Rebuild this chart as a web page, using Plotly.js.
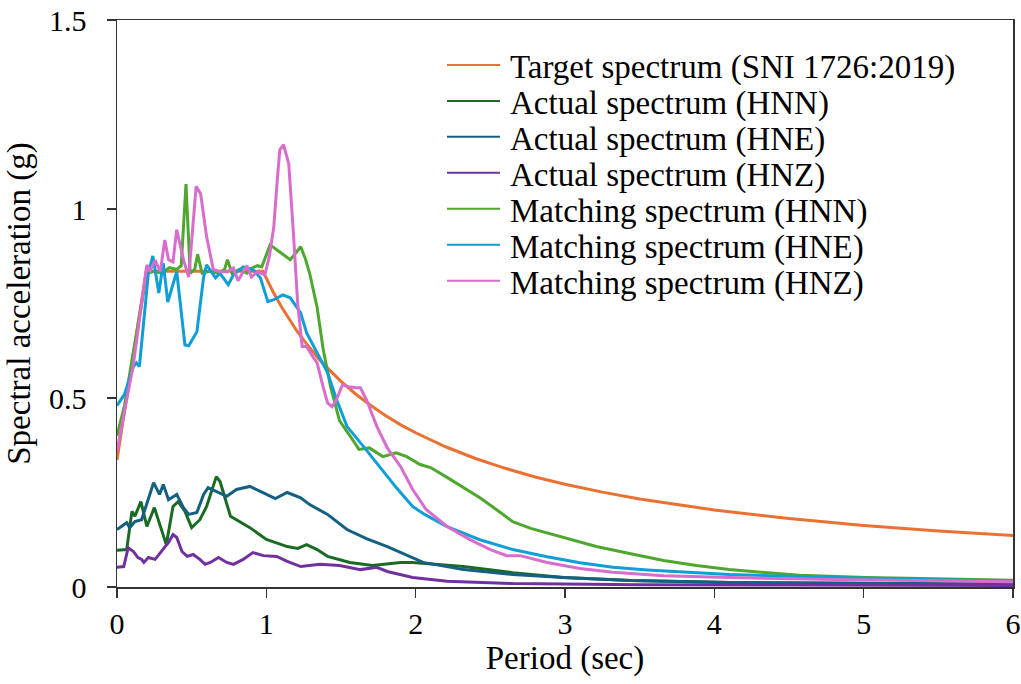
<!DOCTYPE html>
<html>
<head>
<meta charset="utf-8">
<script src="https://cdn.plot.ly/plotly-3.0.1.min.js"></script>
<style>html,body{margin:0;padding:0;background:#fff;}#chart{width:1021px;height:684px;}</style>
</head>
<body>
<div id="chart"></div>
<script>
// ---- Data ----
const seriesNames = [
  "Target spectrum (SNI 1726:2019)",
  "Actual spectrum (HNN)",
  "Actual spectrum (HNE)",
  "Actual spectrum (HNZ)",
  "Matching spectrum (HNN)",
  "Matching spectrum (HNE)",
  "Matching spectrum (HNZ)"
];

const targetT  = [0, 0.195, 0.977, 1.05, 1.1, 1.15, 1.2, 1.25, 1.3, 1.35, 1.4, 1.45, 1.5, 1.6, 1.7, 1.8, 1.9, 2.0, 2.2, 2.4, 2.6, 2.8, 3.0, 3.25, 3.5, 3.75, 4.0, 4.5, 5.0, 5.5, 6.0];
const targetSa = [0.336, 0.835, 0.835, 0.777, 0.742, 0.710, 0.680, 0.653, 0.628, 0.604, 0.583, 0.563, 0.544, 0.510, 0.480, 0.453, 0.429, 0.408, 0.371, 0.340, 0.314, 0.291, 0.272, 0.251, 0.233, 0.218, 0.204, 0.181, 0.163, 0.148, 0.136];

const actHNN_T  = [0, 0.065, 0.10, 0.12, 0.16, 0.20, 0.25, 0.29, 0.33, 0.375, 0.41, 0.455, 0.50, 0.555, 0.60, 0.665, 0.69, 0.76, 0.89, 1.0, 1.14, 1.21, 1.27, 1.34, 1.41, 1.56, 1.71, 1.90, 1.98, 2.32, 2.65, 2.99, 3.44, 4.1, 5.0, 6.0];
const actHNN_Sa = [0.097, 0.099, 0.20, 0.187, 0.226, 0.16, 0.21, 0.16, 0.112, 0.213, 0.226, 0.20, 0.157, 0.178, 0.213, 0.292, 0.279, 0.187, 0.157, 0.126, 0.107, 0.102, 0.112, 0.099, 0.081, 0.065, 0.057, 0.065, 0.065, 0.054, 0.038, 0.025, 0.017, 0.012, 0.009, 0.007];

const actHNE_T  = [0, 0.065, 0.085, 0.12, 0.165, 0.21, 0.245, 0.285, 0.31, 0.345, 0.40, 0.445, 0.48, 0.535, 0.58, 0.61, 0.67, 0.735, 0.80, 0.89, 0.96, 1.06, 1.14, 1.23, 1.29, 1.41, 1.54, 1.67, 1.81, 1.90, 2.05, 2.32, 2.65, 2.99, 3.44, 4.1, 5.0, 6.0];
const actHNE_Sa = [0.152, 0.17, 0.157, 0.173, 0.178, 0.236, 0.276, 0.245, 0.271, 0.231, 0.245, 0.21, 0.192, 0.197, 0.245, 0.263, 0.253, 0.24, 0.258, 0.266, 0.253, 0.234, 0.25, 0.236, 0.218, 0.192, 0.152, 0.128, 0.107, 0.091, 0.065, 0.046, 0.033, 0.025, 0.017, 0.012, 0.010, 0.008];

const actHNZ_T  = [0, 0.045, 0.075, 0.11, 0.14, 0.165, 0.18, 0.21, 0.255, 0.31, 0.345, 0.375, 0.40, 0.435, 0.47, 0.51, 0.555, 0.59, 0.625, 0.68, 0.735, 0.78, 0.845, 0.91, 0.98, 1.07, 1.14, 1.23, 1.36, 1.49, 1.63, 1.74, 1.81, 1.98, 2.21, 2.65, 3.5, 4.5, 6.0];
const actHNZ_Sa = [0.052, 0.054, 0.104, 0.094, 0.078, 0.073, 0.065, 0.078, 0.073, 0.099, 0.118, 0.139, 0.131, 0.094, 0.081, 0.086, 0.073, 0.06, 0.065, 0.078, 0.065, 0.06, 0.073, 0.091, 0.083, 0.081, 0.068, 0.054, 0.06, 0.057, 0.046, 0.052, 0.041, 0.025, 0.015, 0.009, 0.006, 0.005, 0.004];

const matHNN_T  = [0, 0.05, 0.10, 0.15, 0.20, 0.25, 0.30, 0.35, 0.40, 0.43, 0.462, 0.49, 0.52, 0.54, 0.57, 0.62, 0.68, 0.72, 0.74, 0.77, 0.82, 0.87, 0.91, 0.94, 0.97, 1.025, 1.09, 1.16, 1.20, 1.23, 1.26, 1.29, 1.34, 1.38, 1.43, 1.49, 1.56, 1.62, 1.69, 1.78, 1.87, 1.94, 2.03, 2.10, 2.21, 2.32, 2.43, 2.54, 2.65, 2.77, 2.99, 3.21, 3.44, 3.66, 3.88, 4.1, 4.57, 5.02, 5.47, 6.0];
const matHNN_Sa = [0.40, 0.48, 0.60, 0.72, 0.83, 0.835, 0.83, 0.845, 0.84, 0.85, 1.066, 0.83, 0.84, 0.88, 0.83, 0.835, 0.83, 0.84, 0.866, 0.83, 0.84, 0.83, 0.845, 0.85, 0.847, 0.905, 0.887, 0.866, 0.885, 0.90, 0.87, 0.83, 0.74, 0.63, 0.53, 0.44, 0.40, 0.364, 0.368, 0.345, 0.355, 0.345, 0.324, 0.316, 0.29, 0.263, 0.236, 0.205, 0.173, 0.155, 0.13, 0.107, 0.088, 0.07, 0.057, 0.046, 0.031, 0.025, 0.022, 0.018];

const matHNE_T  = [0, 0.05, 0.11, 0.13, 0.15, 0.21, 0.24, 0.28, 0.31, 0.34, 0.40, 0.455, 0.48, 0.535, 0.58, 0.60, 0.66, 0.69, 0.745, 0.78, 0.845, 0.91, 0.96, 1.01, 1.05, 1.11, 1.16, 1.23, 1.27, 1.34, 1.41, 1.47, 1.54, 1.65, 1.76, 1.87, 1.98, 2.06, 2.21, 2.43, 2.65, 2.88, 3.10, 3.32, 3.55, 3.88, 4.1, 4.8, 6.0];
const matHNE_Sa = [0.48, 0.51, 0.583, 0.593, 0.583, 0.83, 0.876, 0.778, 0.857, 0.754, 0.834, 0.64, 0.638, 0.675, 0.82, 0.852, 0.818, 0.83, 0.80, 0.826, 0.847, 0.84, 0.818, 0.755, 0.76, 0.773, 0.765, 0.725, 0.672, 0.62, 0.567, 0.496, 0.425, 0.372, 0.318, 0.263, 0.213, 0.192, 0.16, 0.125, 0.099, 0.08, 0.064, 0.052, 0.045, 0.037, 0.033, 0.025, 0.015];

const matHNZ_T  = [0, 0.11, 0.20, 0.22, 0.255, 0.29, 0.32, 0.345, 0.375, 0.40, 0.445, 0.48, 0.53, 0.56, 0.60, 0.645, 0.69, 0.74, 0.78, 0.81, 0.87, 0.90, 0.94, 0.99, 1.02, 1.05, 1.07, 1.09, 1.115, 1.15, 1.18, 1.21, 1.24, 1.27, 1.31, 1.34, 1.38, 1.41, 1.44, 1.47, 1.51, 1.55, 1.60, 1.63, 1.67, 1.74, 1.81, 1.90, 1.98, 2.07, 2.21, 2.36, 2.50, 2.61, 2.70, 2.88, 3.10, 3.32, 3.66, 4.1, 4.8, 6.0];
const matHNZ_Sa = [0.36, 0.59, 0.852, 0.834, 0.865, 0.834, 0.918, 0.866, 0.86, 0.945, 0.866, 0.82, 1.06, 1.04, 0.927, 0.84, 0.834, 0.834, 0.844, 0.81, 0.85, 0.82, 0.834, 0.826, 0.874, 0.953, 1.06, 1.156, 1.17, 1.12, 0.945, 0.75, 0.636, 0.636, 0.61, 0.593, 0.53, 0.487, 0.477, 0.496, 0.535, 0.53, 0.527, 0.527, 0.496, 0.425, 0.368, 0.318, 0.258, 0.205, 0.16, 0.126, 0.099, 0.083, 0.083, 0.065, 0.049, 0.039, 0.030, 0.025, 0.020, 0.014];

const xTickVals = [0, 1, 2, 3, 4, 5, 6];
const yTickVals = [0, 0.5, 1, 1.5];
const yTickText = ["0", "0.5", "1", "1.5"];

// ---- Styling ----
const colors = ["#E97132", "#196B24", "#156082", "#7030A0", "#4EA72E", "#0F9ED5", "#D86DCD"];
const xs = [targetT, actHNN_T, actHNE_T, actHNZ_T, matHNN_T, matHNE_T, matHNZ_T];
const ys = [targetSa, actHNN_Sa, actHNE_Sa, actHNZ_Sa, matHNN_Sa, matHNE_Sa, matHNZ_Sa];
const FONT = "'Liberation Serif', 'Times New Roman', serif";

const legendIds = ["legend", "legend2", "legend3", "legend4", "legend5", "legend6", "legend7"];
const traces = seriesNames.map((name, i) => ({
  type: "scatter", mode: "lines", name: name,
  x: xs[i], y: ys[i],
  line: {color: colors[i], width: 3},
  legend: legendIds[i],
  hoverinfo: "skip"
}));

const plotTop = 20, plotBottom = 96.5, H = 684;
const plotH = H - plotTop - plotBottom;
const layout = {
  width: 1021, height: 684,
  margin: {l: 117, r: 8, t: plotTop, b: plotBottom, pad: 0},
  paper_bgcolor: "#fff", plot_bgcolor: "#fff",
  font: {family: FONT, size: 30, color: "#000"},
  showlegend: true,
  xaxis: {
    range: [0, 6], tickvals: xTickVals, ticks: "outside", ticklen: 9, tickwidth: 1.5, tickcolor: "#333",
    showline: true, linecolor: "#333", linewidth: 1.5, mirror: true, showgrid: false, zeroline: false,
    tickfont: {family: FONT, size: 30, color: "#000"},
    title: {text: "Period (sec)", font: {family: FONT, size: 33, color: "#000"}, standoff: 7}
  },
  yaxis: {
    range: [0, 1.5], tickvals: yTickVals, ticktext: yTickText, ticks: "outside", ticklen: 9, tickwidth: 1.5, tickcolor: "#333",
    showline: true, linecolor: "#333", linewidth: 1.5, mirror: true, showgrid: false, zeroline: false,
    ticklabelstandoff: 14,
    tickfont: {family: FONT, size: 30, color: "#000"},
    title: {text: "Spectral acceleration (g)", font: {family: FONT, size: 33, color: "#000"}, standoff: 8}
  }
};

const legendRowTop = 65, legendRowGap = 36;
legendIds.forEach((id, i) => {
  const py = legendRowTop + legendRowGap * i;
  layout[id] = {
    x: 0.3627, xanchor: "left",
    y: (H - plotBottom - py) / plotH, yanchor: "middle",
    bgcolor: "rgba(0,0,0,0)", borderwidth: 0,
    font: {family: FONT, size: 33, color: "#000"},
    itemwidth: 58
  };
});

Plotly.newPlot("chart", traces, layout, {displayModeBar: false, staticPlot: true}).then(gd => {
  gd.querySelectorAll(".legendlines path").forEach(p => {
    p.setAttribute("d", "M5,0h53");
    p.style.strokeWidth = "2px";
  });
});
</script>
</body>
</html>
